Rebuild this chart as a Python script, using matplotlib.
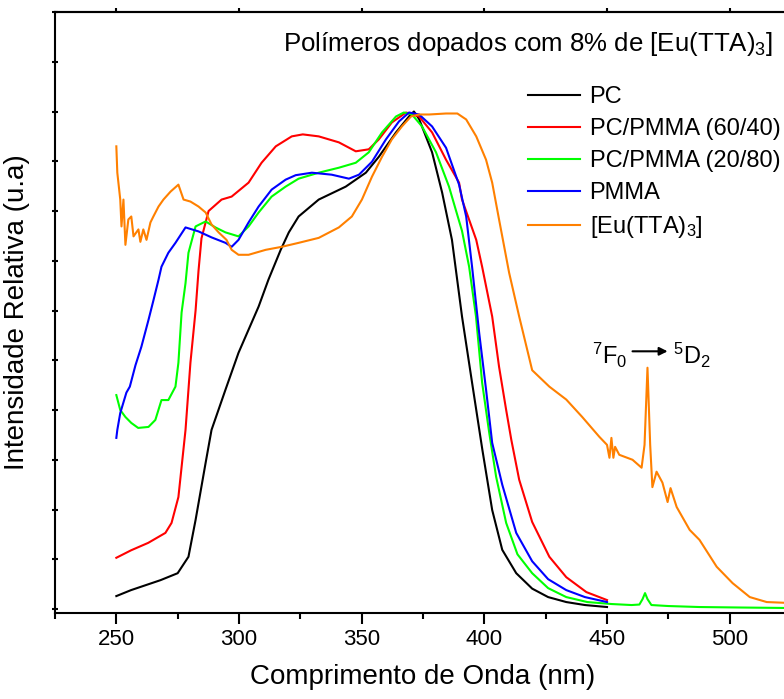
import matplotlib
matplotlib.use('Agg')
import matplotlib.pyplot as plt
import numpy as np

plt.rcParams['font.family'] = ['Liberation Sans', 'DejaVu Sans']
plt.rcParams['mathtext.fontset'] = 'custom'
plt.rcParams['mathtext.rm'] = 'Liberation Sans'
plt.rcParams['mathtext.it'] = 'Liberation Sans'

# PC
pc_x = [250, 256, 262, 268, 275, 279.4, 282.3, 286.4, 288.8, 294.5, 299.8, 308, 312, 317, 320.3, 324.3,
        332.5, 343.5, 351.7, 357, 364, 369.3, 371.3, 373.4, 378.7, 382.8, 386.8, 390.9, 395, 399.2,
        403.2, 407.3, 413, 419.5, 426, 433.4, 441, 450]
pc_y = [0.026, 0.038, 0.048, 0.058, 0.072, 0.105, 0.179, 0.294, 0.360, 0.441, 0.515, 0.608, 0.662,
        0.722, 0.757, 0.789, 0.823, 0.849, 0.877, 0.909, 0.958, 0.990, 1.0, 0.985, 0.918, 0.837, 0.742,
        0.588, 0.455, 0.320, 0.199, 0.119, 0.072, 0.041, 0.024, 0.014, 0.008, 0.004]

# PC/PMMA (60/40)
r_x = [250, 256, 263, 270, 272.5, 275.3, 278.2, 280.2, 282.3, 283.5, 284.7, 287.6, 292.9, 297, 303.9,
       309.2, 315, 321.5, 326, 332.5, 340.7, 347.6, 352.9, 357, 362.3, 368.1, 373.4, 378.7, 384.4,
       389.7, 390.9, 396.7, 399.1, 403.2, 406, 408.9, 411, 414.2, 419.5, 426.5, 433.4, 441.6, 450]
r_y = [0.103, 0.118, 0.133, 0.153, 0.173, 0.225, 0.360, 0.495, 0.600, 0.680, 0.745, 0.800, 0.823,
       0.829, 0.857, 0.897, 0.930, 0.950, 0.954, 0.950, 0.938, 0.920, 0.924, 0.944, 0.978, 0.998, 0.99,
       0.958, 0.903, 0.857, 0.823, 0.742, 0.688, 0.588, 0.487, 0.40, 0.34, 0.26, 0.175, 0.105, 0.064,
       0.034, 0.018]

# PC/PMMA (20/80)
g_x = [250, 251.6, 253.7, 256.1, 258.9, 263.1, 265.9, 268.4, 271.2, 274.1, 275.3, 276.6, 278.2, 279.4,
       282.3, 286.4, 290.4, 294.5, 299.8, 303.9, 308, 313.3, 319, 324.3, 332.5, 340.7, 347.6, 352.9,
       358.3, 364, 367.2, 370.5, 374.6, 380.3, 385.6, 388.5, 390.9, 393.8, 396.6, 399.1, 402, 404.8,
       408.9, 413.5, 419.5, 426, 433.4, 442, 452, 460, 463.2, 464.5, 465.5, 466.5, 468.1, 475, 487.7,
       505, 525]
g_y = [0.43, 0.40, 0.386, 0.374, 0.364, 0.366, 0.38, 0.42, 0.42, 0.447, 0.495, 0.596, 0.655, 0.716,
       0.769, 0.779, 0.767, 0.757, 0.749, 0.769, 0.797, 0.829, 0.849, 0.865, 0.877, 0.887, 0.897, 0.918,
       0.958, 0.99, 0.998, 0.994, 0.970, 0.918, 0.849, 0.80, 0.76, 0.688, 0.588, 0.455, 0.354, 0.266,
       0.173, 0.11, 0.072, 0.042, 0.024, 0.014, 0.010, 0.008, 0.009, 0.02, 0.032, 0.02, 0.008, 0.006,
       0.004, 0.003, 0.002]

# PMMA
b_x = [250, 250.4, 251.6, 254.1, 255.5, 257.8, 260.2, 263.1, 265.1, 267.2, 268.4, 271.2, 274.1, 278.2,
       283.5, 288.8, 294.5, 297, 299.8, 303.9, 308, 313.3, 319, 323.1, 329.7, 337.8, 344.8, 348.9,
       354.2, 359.9, 365.2, 369.3, 373.4, 378.7, 384.4, 389.7, 392.6, 395, 397.9, 400.7, 403.2, 407.3,
       413, 419.5, 426, 433.4, 441, 450]
b_y = [0.344, 0.36, 0.394, 0.435, 0.447, 0.49, 0.527, 0.581, 0.62, 0.662, 0.688, 0.716, 0.736, 0.767,
       0.759, 0.747, 0.736, 0.728, 0.742, 0.777, 0.809, 0.843, 0.863, 0.872, 0.877, 0.873, 0.865,
       0.873, 0.899, 0.944, 0.980, 0.998, 0.994, 0.970, 0.927, 0.853, 0.789, 0.688, 0.555, 0.441,
       0.334, 0.25, 0.153, 0.096, 0.06, 0.038, 0.024, 0.014]

# [Eu(TTA)3]
o_x = [250, 250.4, 251.6, 252.1, 252.9, 253.7, 254.9, 256.1, 257, 259, 259.8, 261, 262.3, 263.9, 265.1,
       267.2, 269.2, 272.1, 275.3, 277.4, 280.2, 283.5, 286.4, 288.8, 291.7, 294.9, 297, 299.8, 303.9,
       310.9, 317.4, 324.3, 332.5, 340.7, 346, 350.1, 354.2, 358.3, 362.3, 366.4, 370.1, 373.4, 377.5,
       384.4, 389, 392.6, 396.7, 400.7, 403.2, 406, 410.1, 414.2, 419.5, 426.5, 433.4, 439.9, 446.9,
       450, 451, 451.8, 452.6, 453.3, 455, 460.4, 464.1, 465.3, 466.5, 467.6, 468.5, 470.2, 472.6,
       474.7, 475.9, 478.4, 483.7, 487.7, 494.7, 501.2, 508.2, 515.1, 525]
o_y = [0.93, 0.877, 0.823, 0.769, 0.823, 0.732, 0.783, 0.789, 0.749, 0.763, 0.738, 0.763, 0.742, 0.777,
       0.789, 0.809, 0.823, 0.839, 0.853, 0.823, 0.819, 0.809, 0.797, 0.773, 0.757, 0.742, 0.722,
       0.712, 0.712, 0.722, 0.728, 0.736, 0.746, 0.767, 0.789, 0.823, 0.869, 0.909, 0.944, 0.970,
       0.99, 0.994, 0.994, 0.996, 0.996, 0.984, 0.95, 0.903, 0.857, 0.783, 0.676, 0.588, 0.48, 0.447,
       0.421, 0.386, 0.346, 0.33, 0.304, 0.344, 0.304, 0.326, 0.31, 0.300, 0.284, 0.33, 0.485, 0.33,
       0.245, 0.276, 0.254, 0.215, 0.243, 0.205, 0.159, 0.139, 0.085, 0.052, 0.024, 0.014, 0.012]

fig = plt.figure(figsize=(7.84, 6.99), dpi=100)
ax = fig.add_axes([55/784, 86/699, (791-55)/784, (613-12)/699])

lw = 1.5
ax.plot(pc_x, pc_y, color='black', lw=lw, label='PC')
ax.plot(r_x, r_y, color='#ff0000', lw=lw, label='PC/PMMA (60/40)')
ax.plot(g_x, g_y, color='#00ff00', lw=lw, label='PC/PMMA (20/80)')
ax.plot(b_x, b_y, color='#0000ff', lw=lw, label='PMMA')
ax.plot(o_x, o_y, color='#ff8000', lw=lw, label='[Eu(TTA)$_3$]')

ax.set_xlim(225, 525)
ax.set_ylim(-0.008, 1.2)
ax.set_xticks([250, 300, 350, 400, 450, 500])
ax.set_xticks(np.arange(225, 526, 50), minor=True)
ax.set_yticks(np.arange(0, 1.21, 0.1))
ax.set_yticklabels([])
ax.tick_params(axis='x', which='major', direction='out', length=8, width=1.5, labelsize=16)
ax.tick_params(axis='x', which='minor', direction='out', length=4.5, width=1.5)
ax.tick_params(axis='y', direction='inout', length=5, width=1.5)
for s in ax.spines.values():
    s.set_linewidth(1.5)

top = ax.secondary_xaxis('top')
top.set_xticks([250, 300, 350, 400, 450, 500])
top.tick_params(direction='out', length=3, width=1.5, labeltop=False)
top.spines['top'].set_linewidth(1.5)

ax.set_xlabel('Comprimento de Onda (nm)', fontsize=20, labelpad=10)
ax.set_ylabel('Intensidade Relativa (u.a)', fontsize=20, labelpad=12)

ax.text(318, 1.135, 'Polímeros dopados com 8% de [Eu(TTA)$_3$]', fontsize=18.6, ha='left', va='center')

ax.legend(loc='upper left', bbox_to_anchor=(0.63, 0.892), frameon=False, fontsize=17,
          handlelength=2.2, handletextpad=0.4, labelspacing=0.42, borderaxespad=0)

ax.text(458.3, 0.51, '$^7$F$_0$', fontsize=17, ha='right', va='center')
ax.text(476.7, 0.51, '$^5$D$_2$', fontsize=17, ha='left', va='center')
ax.annotate('', xy=(474.7, 0.518), xytext=(460.4, 0.518),
            arrowprops=dict(arrowstyle='-|>', color='black', lw=1.5, mutation_scale=12,
                            shrinkA=0, shrinkB=0))

fig.savefig('out.png', dpi=100)
